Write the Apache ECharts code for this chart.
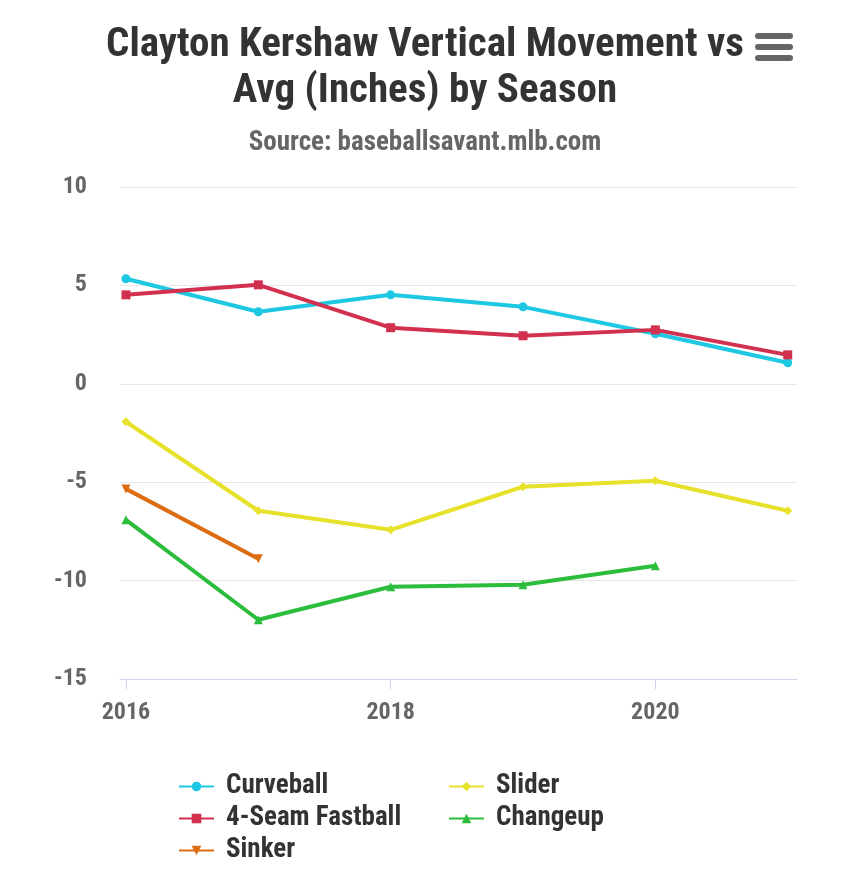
<!DOCTYPE html>
<html><head><meta charset="utf-8">
<script src="https://cdn.jsdelivr.net/npm/echarts@6/dist/echarts.min.js"></script>
<style>html,body{margin:0;padding:0;background:#fff}#c{width:850px;height:884px}</style>
</head><body><div id="c"></div>
<script>
var years = [2016, 2017, 2018, 2019, 2020, 2021];
var curveball = [5.34, 3.66, 4.52, 3.91, 2.54, 1.07];
var fastball = [4.52, 5.03, 2.85, 2.44, 2.74, 1.47];
var sinker = [-5.34, -8.89, null, null, null, null];
var slider = [-1.93, -6.45, -7.42, -5.23, -4.93, -6.45];
var changeup = [-6.91, -11.99, -10.31, -10.21, -9.25, null];
var xTicks = [2016, 2018, 2020];

var FONT = '"Roboto Condensed", "Liberation Sans Narrow", Roboto, sans-serif';
function pairs(v){ return years.map(function(y,i){ return [y, v[i]]; }); }
function mk(name, vals, color, symbol){
  return {name:name, type:'line', data:pairs(vals), color:color, symbol:symbol, symbolSize:9,
    showSymbol:true, connectNulls:false, lineStyle:{width:4,color:color}, itemStyle:{color:color}};
}
var legText = {fontFamily:FONT, fontSize:27, fontWeight:'bold', color:'#333333', padding:[0,0,0,7]};
var chart = echarts.init(document.getElementById('c'), null, {renderer:'canvas'});
chart.setOption({
  backgroundColor:'#ffffff',
  animation:false,
  title:[{text:'Clayton Kershaw Vertical Movement vs\nAvg (Inches) by Season', left:'center', top:18,
    textStyle:{fontFamily:FONT, fontSize:41, fontWeight:'bold', color:'#333333', lineHeight:46}},
    {text:'Source: baseballsavant.mlb.com', left:'center', top:125,
    textStyle:{fontFamily:FONT, fontSize:27, fontWeight:'bold', color:'#666666'}}],
  grid:{left:120, right:53, top:187, bottom:205, containLabel:false},
  xAxis:{type:'value', min:2015.955, max:2021.07,
    axisLine:{show:true, onZero:false, lineStyle:{color:'#ccd6eb', width:1}},
    axisTick:{show:true, length:10, lineStyle:{color:'#ccd6eb'}, customValues:xTicks},
    axisLabel:{customValues:xTicks, fontFamily:FONT, fontSize:24, fontWeight:'bold', color:'#666666', margin:22, formatter:function(v){return String(v);}},
    splitLine:{show:false}},
  yAxis:{type:'value', min:-15, max:10, interval:5,
    axisLine:{show:false}, axisTick:{show:false},
    axisLabel:{fontFamily:FONT, fontSize:24, fontWeight:'bold', color:'#666666', margin:33},
    splitLine:{lineStyle:{color:'#e6e6e6', width:1}}},
  legend:[{data:['Curveball','4-Seam Fastball','Sinker'], orient:'vertical', left:173, top:768, itemGap:5,
    itemWidth:35, itemHeight:12, textStyle:legText},
    {data:['Slider','Changeup'], orient:'vertical', left:443, top:768, itemGap:5,
    itemWidth:35, itemHeight:12, textStyle:legText}],
  graphic:[
    {type:'rect', shape:{x:755,y:33,width:38,height:6,r:3}, style:{fill:'#666666'}},
    {type:'rect', shape:{x:755,y:44,width:38,height:6,r:3}, style:{fill:'#666666'}},
    {type:'rect', shape:{x:755,y:55,width:38,height:6,r:3}, style:{fill:'#666666'}}
  ],
  series:[
    mk('Curveball', curveball, '#1ec8e3', 'circle'),
    mk('4-Seam Fastball', fastball, '#d1304f', 'rect'),
    mk('Sinker', sinker, '#dd6d12', 'path://M0,0 L10,0 L5,10 Z'),
    mk('Slider', slider, '#e6e22b', 'diamond'),
    mk('Changeup', changeup, '#2cbd3c', 'triangle')
  ]
});
</script></body></html>
